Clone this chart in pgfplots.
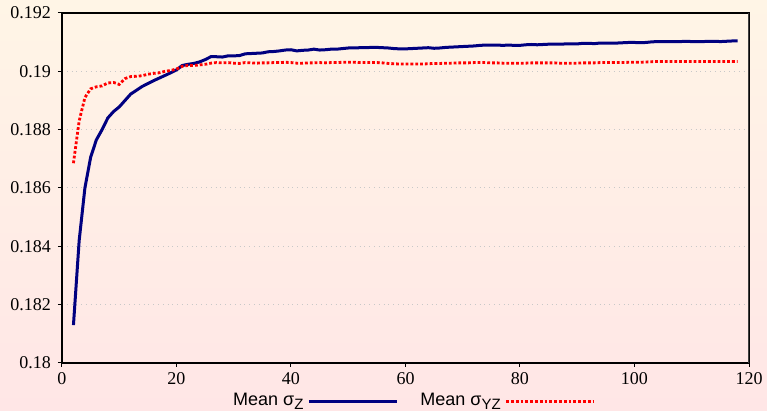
\documentclass[border=0pt]{standalone}
\usepackage{fontspec}
\setmainfont{Liberation Serif}
\newfontfamily\arial{Liberation Sans}
\usepackage{pgfplots}
\pgfplotsset{compat=1.18}
\definecolor{bgtop}{RGB}{255,245,230}
\definecolor{bgbot}{RGB}{255,230,230}
\definecolor{navy}{RGB}{0,0,128}
\definecolor{gridgray}{RGB}{200,200,200}
\newcommand{\lsub}[1]{\raisebox{-2pt}{\fontsize{7.5}{8}\selectfont #1}}

\pgfplotstableread{
x y
2 0.18130
3 0.18420
4 0.18600
5 0.18705
6 0.18765
7 0.18800
8 0.18840
9 0.18862
10 0.18878
11 0.18900
12 0.18922
13 0.18935
14 0.18948
15 0.18958
16 0.18968
17 0.18977
18 0.18986
19 0.18995
20 0.19005
21 0.19020
22 0.19024
23 0.19027
24 0.19032
25 0.19040
26 0.19050
27 0.19050
28 0.19049
29 0.19053
30 0.19053
31 0.19054
32 0.19060
33 0.19061
34 0.19062
35 0.19063
36 0.19067
37 0.19068
38 0.19070
39 0.19073
40 0.19074
41 0.19070
42 0.19072
43 0.19073
44 0.19076
45 0.19073
46 0.19074
47 0.19076
48 0.19076
49 0.19078
50 0.19080
51 0.19080
52 0.19081
53 0.19081
54 0.19082
55 0.19082
56 0.19081
57 0.19080
58 0.19078
59 0.19077
60 0.19077
61 0.19078
62 0.19079
63 0.19080
64 0.19081
65 0.19079
66 0.19080
67 0.19082
68 0.19083
69 0.19084
70 0.19085
71 0.19086
72 0.19087
73 0.19089
74 0.19090
75 0.19090
76 0.19090
77 0.19089
78 0.19090
79 0.19089
80 0.19089
81 0.19091
82 0.19092
83 0.19091
84 0.19092
85 0.19093
86 0.19093
87 0.19093
88 0.19094
89 0.19094
90 0.19094
91 0.19096
92 0.19096
93 0.19095
94 0.19097
95 0.19097
96 0.19097
97 0.19097
98 0.19098
99 0.19099
100 0.19099
101 0.19098
102 0.19099
103 0.19101
104 0.19102
105 0.19102
106 0.19102
107 0.19102
108 0.19102
109 0.19103
110 0.19102
111 0.19102
112 0.19102
113 0.19103
114 0.19103
115 0.19102
116 0.19103
117 0.19104
118 0.19104
}\sigmaz

\pgfplotstableread{
x y
2 0.18685
3 0.18830
4 0.18910
5 0.18940
6 0.18947
7 0.18950
8 0.18960
9 0.18962
10 0.18955
11 0.18975
12 0.18982
13 0.18983
14 0.18985
15 0.18990
16 0.18993
17 0.18995
18 0.19000
19 0.19003
20 0.19008
21 0.19017
22 0.19020
23 0.19020
24 0.19022
25 0.19024
26 0.19028
27 0.19030
28 0.19029
29 0.19030
30 0.19028
31 0.19027
32 0.19030
33 0.19029
34 0.19028
35 0.19029
36 0.19029
37 0.19030
38 0.19030
39 0.19031
40 0.19030
41 0.19028
42 0.19028
43 0.19029
44 0.19029
45 0.19030
46 0.19029
47 0.19030
48 0.19030
49 0.19031
50 0.19031
51 0.19031
52 0.19030
53 0.19030
54 0.19030
55 0.19030
56 0.19029
57 0.19027
58 0.19026
59 0.19025
60 0.19025
61 0.19025
62 0.19025
63 0.19025
64 0.19026
65 0.19027
66 0.19027
67 0.19028
68 0.19028
69 0.19029
70 0.19029
71 0.19029
72 0.19030
73 0.19030
74 0.19030
75 0.19029
76 0.19029
77 0.19028
78 0.19028
79 0.19028
80 0.19028
81 0.19028
82 0.19029
83 0.19029
84 0.19029
85 0.19029
86 0.19029
87 0.19028
88 0.19028
89 0.19028
90 0.19028
91 0.19029
92 0.19029
93 0.19029
94 0.19030
95 0.19030
96 0.19030
97 0.19030
98 0.19030
99 0.19031
100 0.19031
101 0.19031
102 0.19032
103 0.19033
104 0.19034
105 0.19034
106 0.19034
107 0.19034
108 0.19034
109 0.19034
110 0.19034
111 0.19034
112 0.19034
113 0.19034
114 0.19034
115 0.19034
116 0.19034
117 0.19034
118 0.19034
}\sigmayz

\begin{document}
\begin{tikzpicture}
% page background, same size as the reference (1px = 0.5pt)
\shade[top color=bgtop, bottom color=bgbot]
  (-31pt,-24pt) rectangle (352.5pt,181.5pt);
\path[use as bounding box] (-31pt,-24pt) rectangle (352.5pt,181.5pt);
\begin{axis}[
  at={(0,0)}, anchor=origin,
  scale only axis,
  width=343.5pt, height=175pt,
  xmin=0, xmax=120, ymin=0.18, ymax=0.192,
  xtick={0,20,...,120},
  ytick={0.18,0.182,...,0.1921},
  yticklabel style={/pgf/number format/fixed, /pgf/number format/precision=3},
  /pgf/number format/assume math mode=true,
  tick label style={font=\fontsize{9}{10}\selectfont},
  xtick pos=left, ytick pos=left,
  tick align=outside,
  major tick length=2pt,
  tick style={black, line width=0.5pt},
  axis line style={black, line width=0.6pt},
  ymajorgrids,
  grid style={gridgray, dotted, line width=0.5pt},
  xticklabel style={yshift=1pt},
  legend columns=2,
  legend plot pos=right,
  legend style={at={(0.51,-0.109)}, anchor=center, draw=none, fill=none,
    font=\arial\fontsize{9}{10}\selectfont,
    /tikz/every even column/.append style={column sep=9pt}},
  legend image code/.code={\draw[#1] (3pt,0pt) -- (47pt,0pt);},
]
\addplot[navy, line width=1.5pt, no marks] table[x=x, y=y] {\sigmaz};
\addlegendentry{Mean σ\lsub{Z}}
\addplot[red, line width=1.4pt, dash pattern=on 1.4pt off 1pt, no marks] table[x=x, y=y] {\sigmayz};
\addlegendentry{Mean σ\lsub{YZ}}
\draw[black!75, line width=1.2pt] (rel axis cs:1,0) -- (rel axis cs:1,1);
\end{axis}
\end{tikzpicture}
\end{document}
